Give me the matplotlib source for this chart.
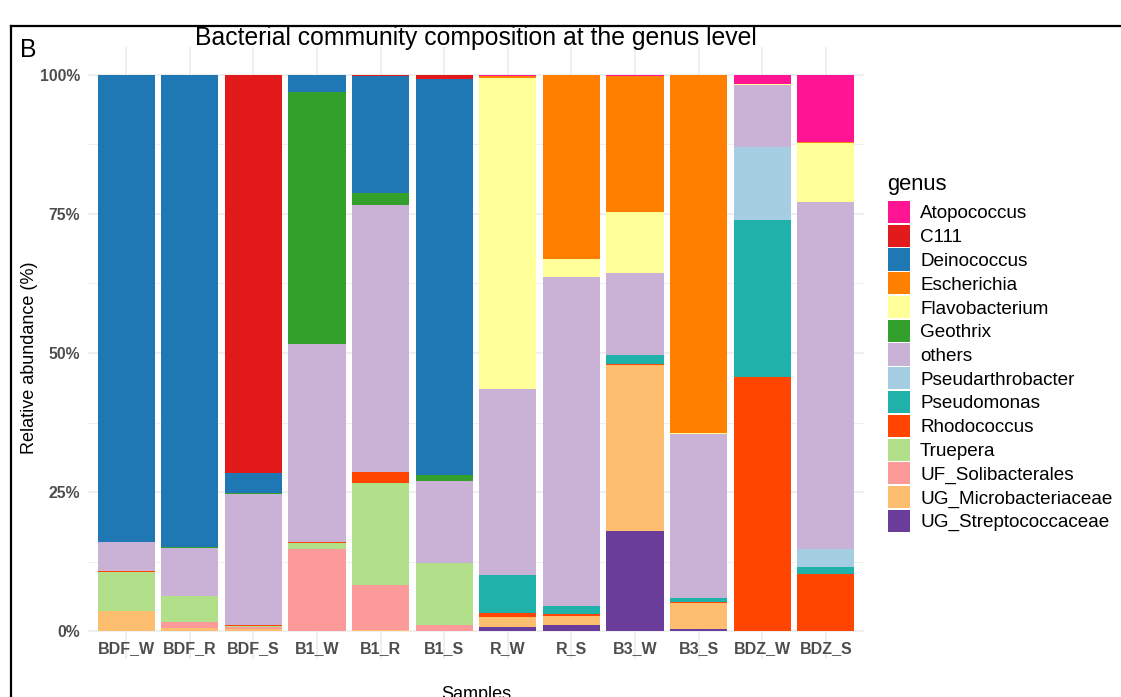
import matplotlib
matplotlib.use('Agg')
import matplotlib.pyplot as plt
import matplotlib.patches as patches
from matplotlib.lines import Line2D
from matplotlib.ticker import MultipleLocator, FuncFormatter

plt.rcParams['font.family'] = ['Liberation Sans', 'DejaVu Sans']

W, H = 1121, 697

samples = ['BDF_W', 'BDF_R', 'BDF_S', 'B1_W', 'B1_R', 'B1_S',
           'R_W', 'R_S', 'B3_W', 'B3_S', 'BDZ_W', 'BDZ_S']

# relative abundance (%) per genus, one value per sample
UG_Streptococcaceae = [0, 0, 0, 0, 0, 0, 0.7, 1.1, 18.0, 0.4, 0, 0]
UG_Microbacteriaceae = [3.6, 0.5, 0.4, 0, 0.3, 0, 1.9, 1.7, 29.8, 4.7, 0, 0]
UF_Solibacterales = [0, 1.1, 0.3, 14.7, 8.0, 1.1, 0, 0, 0, 0, 0, 0]
Truepera = [7.0, 4.8, 0.3, 1.1, 18.3, 11.2, 0, 0, 0, 0, 0, 0]
Rhodococcus = [0.3, 0, 0.2, 0.3, 2.0, 0, 0.6, 0.2, 0.2, 0.2, 45.7, 10.3]
Pseudomonas = [0, 0, 0, 0, 0, 0, 6.9, 1.6, 1.6, 0.6, 28.2, 1.2]
Pseudarthrobacter = [0, 0, 0, 0, 0, 0, 0, 0, 0, 0, 13.2, 3.2]
others = [5.2, 8.5, 23.4, 35.5, 48.0, 14.7, 33.4, 59.1, 14.8, 29.5, 11.0, 62.5]
Geothrix = [0, 0.2, 0.2, 45.3, 2.2, 1.1, 0, 0, 0, 0, 0, 0]
Flavobacterium = [0, 0, 0, 0, 0, 0, 55.9, 3.2, 11.0, 0.2, 0.3, 10.5]
Escherichia = [0, 0, 0, 0, 0, 0, 0.4, 33.1, 24.4, 64.4, 0, 0.3]
Deinococcus = [83.8, 84.9, 3.6, 3.1, 21.0, 71.2, 0, 0, 0, 0, 0, 0]
C111 = [0.1, 0, 71.6, 0, 0.2, 0.7, 0, 0, 0, 0, 0, 0]
Atopococcus = [0, 0, 0, 0, 0, 0, 0.2, 0, 0.2, 0, 1.6, 12.0]

# legend order (top to bottom); stacks are drawn in reverse
genera = ['Atopococcus', 'C111', 'Deinococcus', 'Escherichia', 'Flavobacterium',
          'Geothrix', 'others', 'Pseudarthrobacter', 'Pseudomonas', 'Rhodococcus',
          'Truepera', 'UF_Solibacterales', 'UG_Microbacteriaceae', 'UG_Streptococcaceae']
values = [Atopococcus, C111, Deinococcus, Escherichia, Flavobacterium,
          Geothrix, others, Pseudarthrobacter, Pseudomonas, Rhodococcus,
          Truepera, UF_Solibacterales, UG_Microbacteriaceae, UG_Streptococcaceae]
colors = ['#FF1493', '#E31A1C', '#1F78B4', '#FF7F00', '#FFFF99',
          '#33A02C', '#CAB2D6', '#A6CEE3', '#20B2AA', '#FF4500',
          '#B2DF8A', '#FB9A99', '#FDBF6F', '#6A3D9A']


def fx(px):
    return px / W


def fy(py):
    return 1 - py / H


fig = plt.figure(figsize=(W / 100, H / 100), dpi=100)
ax = fig.add_axes([fx(88), fy(659), fx(864) - fx(88), fy(47) - fy(659)])

x = list(range(1, len(samples) + 1))
bottom = [0.0] * len(samples)
for name, vals, col in zip(genera[::-1], values[::-1], colors[::-1]):
    ax.bar(x, vals, width=0.9, bottom=bottom, color=col, linewidth=0, zorder=3)
    bottom = [b + v for b, v in zip(bottom, vals)]

ax.set_xlim(0.4, 12.6)
ax.set_ylim(-5, 105)

# grid like theme_minimal
for y in [0, 25, 50, 75, 100]:
    ax.axhline(y, color='#EBEBEB', lw=1.1, zorder=1)
for y in [12.5, 37.5, 62.5, 87.5]:
    ax.axhline(y, color='#EBEBEB', lw=0.55, zorder=1)
for xi in x:
    ax.axvline(xi, color='#EBEBEB', lw=1.1, zorder=1)

ax.set_xticks(x)
ax.set_xticklabels(samples, fontsize=11.5, fontweight='bold', color='#4D4D4D')
ax.yaxis.set_major_locator(MultipleLocator(25))
ax.yaxis.set_major_formatter(FuncFormatter(lambda v, p: f'{int(v)}%'))
ax.tick_params(axis='y', length=0, pad=5.8, labelsize=11.3, labelcolor='#4D4D4D')
ax.tick_params(axis='x', length=0, pad=-13)
for lab in ax.get_yticklabels():
    lab.set_fontweight('bold')
for s in ax.spines.values():
    s.set_visible(False)

# titles and axis labels
fig.text(fx(476), fy(45), 'Bacterial community composition at the genus level',
         fontsize=17.8, ha='center', va='baseline')
fig.text(fx(20), fy(57), 'B', fontsize=17.8, ha='left', va='baseline')
fig.text(fx(30), fy(358), 'Relative abundance (%)', fontsize=13, rotation=90,
         ha='center', va='center')
fig.text(fx(476), fy(699), 'Samples', fontsize=13, ha='center', va='baseline')

# legend
fig.text(fx(887), fy(190), 'genus', fontsize=15.8, ha='left', va='baseline')
for i, (name, col) in enumerate(zip(genera, colors)):
    cy = 212 + i * 23.75
    fig.add_artist(patches.Rectangle((fx(888), fy(cy + 11)), fx(22), 22 / H,
                                     facecolor=col, edgecolor='none'))
    fig.text(fx(920), fy(cy), name, fontsize=13.6, ha='left', va='center_baseline')

# panel border running off the right and bottom edges
fig.add_artist(Line2D([fx(11), fx(11)], [fy(26), 0], color='black', lw=1.6))
fig.add_artist(Line2D([fx(11), 1], [fy(26), fy(26)], color='black', lw=1.6))

fig.savefig('out.png', dpi=100)
